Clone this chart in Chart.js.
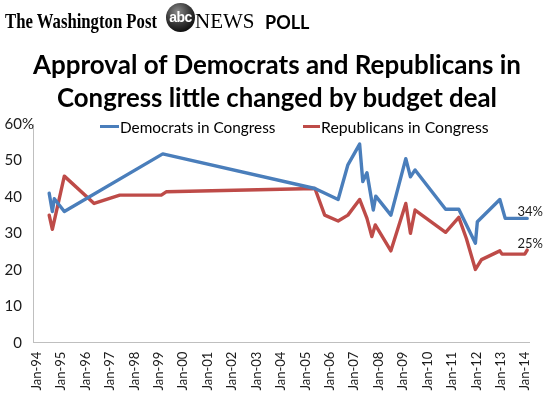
<!DOCTYPE html>
<html><head><meta charset="utf-8">
<script src="https://cdn.jsdelivr.net/npm/chart.js@4.4.1/dist/chart.umd.min.js"></script>
<style>
html,body{margin:0;padding:0;background:#fff;}
#wrap{position:relative;width:550px;height:399px;overflow:hidden;background:#fff;}
#c{position:absolute;left:0;top:0;}
.t{position:absolute;white-space:nowrap;line-height:1;transform-origin:0 0;color:#000;}
#abc{position:absolute;left:166px;top:3px;width:29px;height:29px;border-radius:50%;
 background:radial-gradient(circle at 40% 30%,#8a8a8a 0%,#3a3a3a 45%,#0a0a0a 80%);
 color:#fff;font:bold 14px 'Liberation Sans';text-align:center;line-height:28px;letter-spacing:-0.5px;}
.mk{position:absolute;height:3px;}
</style></head>
<body><div id="wrap">
<canvas id="c" width="550" height="399"></canvas>
<div class="t" data-w="152" style="left:5px;top:8px;font:bold 22px 'Liberation Serif';">The Washington Post</div>
<div id="abc">abc</div>
<div class="t" style="left:195px;top:9px;font:21px 'Liberation Serif';">NEWS</div>
<div class="t" style="left:265px;top:10.7px;font:bold 18px Lato;">POLL</div>
<div class="t" data-w="488" style="left:33px;top:48.3px;font:bold 26px Lato;">Approval of Democrats and Republicans in</div>
<div class="t" data-w="440" style="left:57px;top:81.3px;font:bold 26px Lato;">Congress little changed by budget deal</div>
<div id="legend"></div>
</div>
<script>
// ---- data ----
const tickYears = [1994,1995,1996,1997,1998,1999,2000,2001,2002,2003,2004,2005,2006,2007,2008,2009,2010,2011,2012,2013,2014];
const tickLabels = ['Jan-94','Jan-95','Jan-96','Jan-97','Jan-98','Jan-99','Jan-00','Jan-01','Jan-02','Jan-03','Jan-04','Jan-05','Jan-06','Jan-07','Jan-08','Jan-09','Jan-10','Jan-11','Jan-12','Jan-13','Jan-14'];
const yTickValues = [0,10,20,30,40,50,60];
const seriesNames = ['Democrats in Congress','Republicans in Congress'];
const seriesColors = ['#4A7EBB','#BE4B48'];
const endLabels = ['34%','25%'];

const demDates  = [1994.51,1994.64,1994.72,1995.13,1999.16,2005.39,2006.34,2006.74,2007.22,2007.35,2007.52,2007.78,2007.88,2008.50,2009.11,2009.30,2009.49,2010.74,2011.28,2011.96,2012.04,2012.96,2013.18,2014.08];
const demValues = [41,36,39.5,36,51.8,42.3,39.3,48.8,54.5,44.2,46.6,36.4,40.2,35,50.5,45.5,47.4,36.6,36.6,27.3,33.2,39.3,34.1,34.1];

const repDates  = [1994.51,1994.64,1995.13,1996.35,1997.40,1999.10,1999.30,2005.39,2005.79,2006.34,2006.74,2007.22,2007.52,2007.72,2007.86,2008.50,2009.11,2009.30,2009.49,2010.74,2011.28,2011.59,2011.96,2012.21,2012.96,2013.05,2013.98,2014.08];
const repValues = [35,31.1,45.7,38.2,40.5,40.5,41.4,42.3,35,33.4,35,39.3,34.1,29.1,32.3,25.2,38.2,30,36.4,30.3,34.4,28.6,20.1,22.8,25.2,24.3,24.3,25.4];

// ---- fit text widths ----
document.querySelectorAll('[data-w]').forEach(el=>{
  const w = el.getBoundingClientRect().width;
  el.style.transform = 'scaleX(' + (parseFloat(el.dataset.w)/w) + ')';
});

// ---- legend (HTML, built from series) ----
const legendPos = [{mk:100, tx:119.5, w:155.5},{mk:302.7, tx:320.7, w:167.6}];
const lg = document.getElementById('legend');
seriesNames.forEach((n,i)=>{
  const mk = document.createElement('div');
  mk.className='mk'; mk.style.left=legendPos[i].mk+'px'; mk.style.top='124.5px';
  mk.style.width=(legendPos[i].tx-legendPos[i].mk-1)+'px'; mk.style.background=seriesColors[i];
  lg.appendChild(mk);
  const tx = document.createElement('div');
  tx.className='t'; tx.textContent=n; tx.style.left=legendPos[i].tx+'px'; tx.style.top='118px';
  tx.style.font='15px Lato';
  lg.appendChild(tx);
  const w = tx.getBoundingClientRect().width;
  tx.style.transform='scaleX('+(legendPos[i].w/w)+')';
});

// ---- chart ----
Chart.defaults.font.family = 'Lato';
const endLabelPlugin = {
  id:'endLabels',
  afterDatasetsDraw(chart){
    const ctx = chart.ctx;
    ctx.save();
    ctx.font = '13px Lato';
    ctx.fillStyle = '#1a1a1a';
    ctx.textAlign = 'center';
    ctx.textBaseline = 'middle';
    chart.data.datasets.forEach((ds,i)=>{
      const pts = chart.getDatasetMeta(i).data;
      const p = pts[pts.length-1];
      ctx.fillText(endLabels[i], p.x + 3, p.y - 6.5);
    });
    // percent sign after the top y tick label
    const ys = chart.scales.y;
    const top = yTickValues[yTickValues.length-1];
    ctx.font = '15px Lato';
    ctx.textAlign = 'left';
    ctx.fillText('%', ys.right - 11.3, ys.getPixelForValue(top));
    ctx.restore();
  }
};

new Chart(document.getElementById('c'), {
  type:'line',
  data:{
    datasets:[
      {label:seriesNames[0], data:demDates.map((d,i)=>({x:d,y:demValues[i]})), borderColor:seriesColors[0], backgroundColor:seriesColors[0]},
      {label:seriesNames[1], data:repDates.map((d,i)=>({x:d,y:repValues[i]})), borderColor:seriesColors[1], backgroundColor:seriesColors[1]}
    ]
  },
  options:{
    responsive:false, animation:false, devicePixelRatio:1,
    layout:{padding:{left:0,right:18.3,top:124,bottom:0}},
    elements:{
      line:{borderWidth:3.4, tension:0, borderJoinStyle:'round', borderCapStyle:'round', fill:false},
      point:{radius:0, hoverRadius:0}
    },
    plugins:{legend:{display:false}, title:{display:false}, tooltip:{enabled:false}},
    scales:{
      x:{
        type:'linear', min:1993.86, max:2014.18,
        grid:{display:false, drawTicks:false},
        border:{display:true, color:'#BFBFBF', width:1},
        afterBuildTicks:(axis)=>{ axis.ticks = tickYears.map(v=>({value:v})); },
        afterFit:(s)=>{ s.height = 399 - 342.7; },
        ticks:{
          autoSkip:false, maxRotation:90, minRotation:90, padding:9,
          font:{size:13}, color:'#1a1a1a',
          callback:(v)=>tickLabels[tickYears.indexOf(v)]
        }
      },
      y:{
        min:0, max:60,
        grid:{display:false, drawTicks:false},
        border:{display:true, color:'#BFBFBF', width:1},
        afterBuildTicks:(axis)=>{ axis.ticks = yTickValues.map(v=>({value:v})); },
        afterFit:(s)=>{ s.width = 33.3; },
        ticks:{padding:11.3, font:{size:15}, color:'#1a1a1a', callback:(v)=>String(v)}
      }
    }
  },
  plugins:[endLabelPlugin]
});
</script>
</body></html>
